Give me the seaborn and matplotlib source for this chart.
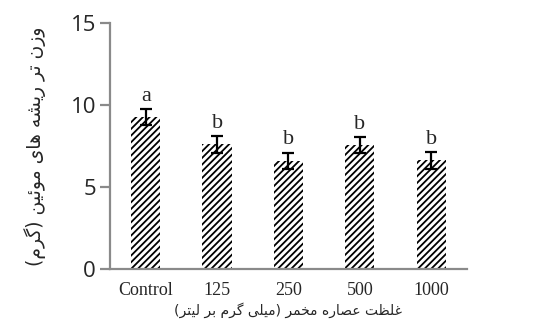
import matplotlib
matplotlib.use("Agg")
import matplotlib.pyplot as plt
import pandas as pd
import seaborn as sns

# data
categories = ["Control", "125", "250", "500", "1000"]
means = [9.25, 7.6, 6.6, 7.55, 6.62]
errors = [0.5, 0.5, 0.5, 0.5, 0.5]
letters = ["a", "b", "b", "b", "b"]
x_title = "غلظت عصاره مخمر (میلی گرم بر لیتر)"
y_title = "وزن تر ریشه های موئین (گرم)"
y_ticks = [0, 5, 10, 15]

# matplotlib has no arabic shaping, so pick presentation forms by hand
# (isolated, final, initial, medial); two entries = joins to the right only
FORMS = {
    "\u0627": (0xFE8D, 0xFE8E),
    "\u0628": (0xFE8F, 0xFE90, 0xFE91, 0xFE92),
    "\u062A": (0xFE95, 0xFE96, 0xFE97, 0xFE98),
    "\u062E": (0xFEA5, 0xFEA6, 0xFEA7, 0xFEA8),
    "\u0631": (0xFEAD, 0xFEAE),
    "\u0632": (0xFEAF, 0xFEB0),
    "\u0634": (0xFEB5, 0xFEB6, 0xFEB7, 0xFEB8),
    "\u0635": (0xFEB9, 0xFEBA, 0xFEBB, 0xFEBC),
    "\u0638": (0xFEC5, 0xFEC6, 0xFEC7, 0xFEC8),
    "\u0639": (0xFEC9, 0xFECA, 0xFECB, 0xFECC),
    "\u063A": (0xFECD, 0xFECE, 0xFECF, 0xFED0),
    "\u0644": (0xFEDD, 0xFEDE, 0xFEDF, 0xFEE0),
    "\u0645": (0xFEE1, 0xFEE2, 0xFEE3, 0xFEE4),
    "\u0646": (0xFEE5, 0xFEE6, 0xFEE7, 0xFEE8),
    "\u0647": (0xFEE9, 0xFEEA, 0xFEEB, 0xFEEC),
    "\u0648": (0xFEED, 0xFEEE),
    "\u0626": (0xFE89, 0xFE8A, 0xFE8B, 0xFE8C),
    "\u06CC": (0xFBFC, 0xFBFD, 0xFBFE, 0xFBFF),
    "\u06AF": (0xFB92, 0xFB93, 0xFB94, 0xFB95),
}


def shape_fa(text):
    out = []
    for i, ch in enumerate(text):
        if ch not in FORMS:
            out.append(ch)
            continue
        prev = text[i - 1] if i > 0 else ""
        nxt = text[i + 1] if i + 1 < len(text) else ""
        f = FORMS[ch]
        joins_prev = prev in FORMS and len(FORMS[prev]) == 4
        joins_next = len(f) == 4 and nxt in FORMS
        if joins_prev and joins_next:
            c = f[3]
        elif joins_prev:
            c = f[1]
        elif joins_next:
            c = f[2]
        else:
            c = f[0]
        out.append(chr(c))
    mirror = {"(": ")", ")": "("}
    return "".join(mirror.get(c, c) for c in reversed(out))


sns.set_style("white")
plt.rcParams["hatch.linewidth"] = 1.3
plt.rcParams["hatch.color"] = "black"

df = pd.DataFrame({"treatment": categories, "weight": means})

fig = plt.figure(figsize=(5.5, 3.27), dpi=100)
ax = fig.add_axes([0.2, 0.1765, 0.649, 0.7541])

sns.barplot(data=df, x="treatment", y="weight", color="white",
            width=0.41, edgecolor="black", linewidth=0, ax=ax)
for p in ax.patches:
    p.set_hatch("/////")

xs = list(range(len(categories)))
ax.errorbar(xs, means, yerr=errors, fmt="none", ecolor="black",
            elinewidth=1.6, capsize=4, capthick=1.6)
for x, m, e, t in zip(xs, means, errors, letters):
    ax.text(x, m + e + 0.5, t, ha="center", va="baseline",
            fontsize=16, family="Liberation Serif")

ax.set_ylim(0, 15)
ax.set_yticks(y_ticks)
ax.set_xlim(-0.5, len(categories) - 0.5)

for side in ["top", "right"]:
    ax.spines[side].set_visible(False)
for side in ["left", "bottom"]:
    ax.spines[side].set_color("#8a8a8a")
    ax.spines[side].set_linewidth(1.6)

ax.tick_params(axis="y", left=True, length=7, width=1.6, color="#8a8a8a",
               pad=3, labelsize=16)
ax.tick_params(axis="x", bottom=False, pad=6, labelsize=13)
for lab in ax.get_yticklabels():
    lab.set_family("Open Sans")
for lab in ax.get_xticklabels():
    lab.set_family("Liberation Serif")

ax.set_xlabel(shape_fa(x_title), family=["DejaVu Sans"], fontsize=10,
              labelpad=2)
ax.set_ylabel(shape_fa(y_title), family=["DejaVu Sans"], fontsize=13.5,
              labelpad=18)

plt.savefig("out.png", dpi=100)
